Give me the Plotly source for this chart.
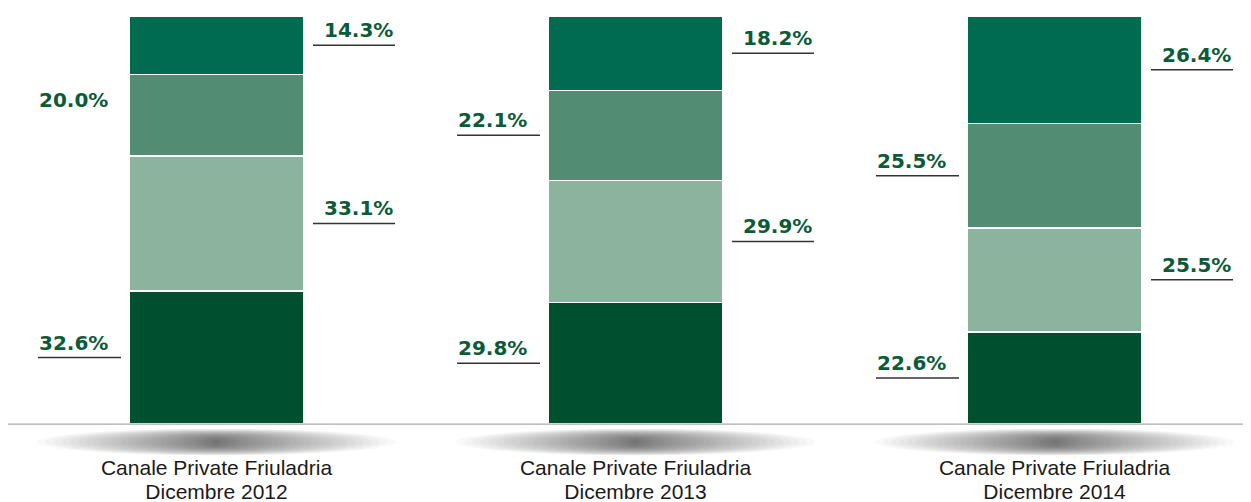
import plotly.graph_objects as go

category_line1 = ["Canale Private Friuladria",
                  "Canale Private Friuladria",
                  "Canale Private Friuladria"]
category_line2 = ["Dicembre 2012", "Dicembre 2013", "Dicembre 2014"]
series_names = ["Serie 1", "Serie 2", "Serie 3", "Serie 4"]  # bottom -> top
serie_1 = [32.6, 29.8, 22.6]
serie_2 = [33.1, 29.9, 25.5]
serie_3 = [20.0, 22.1, 25.5]
serie_4 = [14.3, 18.2, 26.4]
values = [serie_1, serie_2, serie_3, serie_4]
colors = ["#005030", "#8cb39e", "#528c72", "#006b4f"]
label_side = ["left", "right", "left", "right"]
no_underline = {(0, 2)}  # (bar index, series index)

# page has an 8px body margin
W, H = 1243, 494
PX_PER_UNIT = 419.0
x0_px = 216.5 - 8
xrange = [-x0_px / PX_PER_UNIT, (W - x0_px) / PX_PER_UNIT]
BAR_W = 175 / PX_PER_UNIT
xs = list(range(len(category_line1)))
YMIN = -12.0

fig = go.Figure()
for s, (name, vals, col) in enumerate(zip(series_names, values, colors)):
    fig.add_trace(go.Bar(x=xs, y=vals, name=name, width=BAR_W,
                         marker=dict(color=col, line=dict(color="white", width=1.5)),
                         hoverinfo="skip"))
# invisible trace to carry the second x axis
fig.add_trace(go.Scatter(x=xs, y=[None] * len(xs), xaxis="x2", showlegend=False, hoverinfo="skip"))

label_color = "#0b5a38"
label_font = dict(family="DejaVu Sans", size=20, color=label_color, weight="bold")
shapes = []
annotations = []
for i in xs:
    base = 0.0
    for s in range(len(values)):
        v = values[s][i]
        mid = base + v / 2
        base += v
        txt = f"{v:.1f}%"
        if label_side[s] == "right":
            lx0 = i + (BAR_W / 2) + 9 / PX_PER_UNIT
            lx1 = lx0 + 82 / PX_PER_UNIT
            annotations.append(dict(x=lx1, y=mid, xref="x", yref="y", text=txt,
                                    showarrow=False, xanchor="right", yanchor="bottom",
                                    xshift=0, yshift=1, font=label_font))
        else:
            lx1 = i - (BAR_W / 2) - 8 / PX_PER_UNIT
            lx0 = lx1 - 83 / PX_PER_UNIT
            annotations.append(dict(x=lx0, y=mid, xref="x", yref="y", text=txt,
                                    showarrow=False, xanchor="left", yanchor="bottom",
                                    xshift=-1, yshift=1, font=label_font))
        if (i, s) not in no_underline:
            shapes.append(dict(type="line", xref="x", yref="y", x0=lx0, x1=lx1, y0=mid, y1=mid,
                               line=dict(color="#333333", width=1.5)))

# soft shadows below the baseline
N = 30
for i in xs:
    for k in range(N):
        f = 1 - k / N
        hw = 180 * f ** 1.4
        hh = 13.5 * f ** 0.6
        shapes.append(dict(type="circle", xref="x", yref="y", xsizemode="pixel", ysizemode="pixel",
                           xanchor=i, yanchor=0, x0=-hw, x1=hw, y0=-18 - hh, y1=-18 + hh,
                           fillcolor="black", opacity=0.024, line=dict(width=0), layer="below"))

# baseline
shapes.append(dict(type="line", xref="paper", yref="y", x0=0, x1=1, y0=0, y1=0,
                   line=dict(color="#aaaaaa", width=1.2)))

top_m = 8
px_per_y = 408 / 100.0
plot_h = px_per_y * (100 - YMIN)
bottom_m = H - top_m - plot_h
axis_pos = (-YMIN) / (100 - YMIN)

tickfont = dict(family="Liberation Sans", size=21, color="#1a1a1a")
fig.update_layout(
    barmode="stack",
    width=W, height=H,
    margin=dict(l=0, r=0, t=top_m, b=bottom_m, autoexpand=False),
    paper_bgcolor="white", plot_bgcolor="white",
    showlegend=False,
    shapes=shapes, annotations=annotations,
    xaxis=dict(range=xrange, tickvals=xs, ticktext=category_line1, showgrid=False, zeroline=False,
               showline=False, ticks="", anchor="free", position=axis_pos,
               ticklabelstandoff=29, tickfont=tickfont, automargin=False),
    xaxis2=dict(range=xrange, tickvals=xs, ticktext=category_line2, showgrid=False, zeroline=False,
                showline=False, ticks="", anchor="free", position=axis_pos, overlaying="x",
                side="bottom", ticklabelstandoff=53, tickfont=tickfont, automargin=False),
    yaxis=dict(range=[YMIN, 100], visible=False),
)
fig.write_html("out.html")
